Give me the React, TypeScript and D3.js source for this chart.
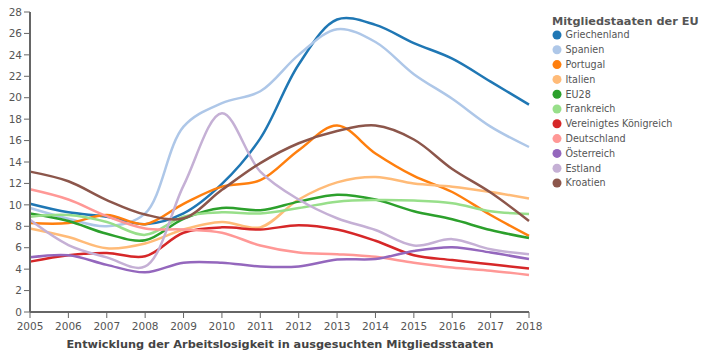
import React from "react";
import * as d3 from "d3";

const years = [2005, 2006, 2007, 2008, 2009, 2010, 2011, 2012, 2013, 2014, 2015, 2016, 2017, 2018];
const seriesNames = ["Griechenland", "Spanien", "Portugal", "Italien", "EU28", "Frankreich", "Vereinigtes Königreich", "Deutschland", "Österreich", "Estland", "Kroatien"];
const colors = ["#1f77b4", "#aec7e8", "#ff7f0e", "#ffbb78", "#2ca02c", "#98df8a", "#d62728", "#ff9896", "#9467bd", "#c5b0d5", "#8c564b"];

const griechenland = [10.1, 9.3, 8.9, 8.2, 9.2, 11.95, 16.2, 23.1, 27.3, 26.8, 25.1, 23.65, 21.5, 19.35];
const spanien = [9.7, 8.7, 8.0, 9.2, 17.3, 19.5, 20.6, 24.0, 26.4, 25.2, 22.2, 19.9, 17.3, 15.4];
const portugal = [8.3, 8.3, 9.05, 8.2, 10.1, 11.7, 12.3, 15.1, 17.4, 14.8, 12.7, 11.2, 9.05, 7.1];
const italien = [7.8, 7.0, 5.95, 6.4, 7.7, 8.4, 7.9, 10.5, 12.1, 12.6, 12.0, 11.7, 11.2, 10.6];
const eu28 = [9.2, 8.5, 7.3, 6.7, 8.7, 9.7, 9.5, 10.3, 10.95, 10.5, 9.4, 8.65, 7.65, 6.9];
const frankreich = [8.9, 9.05, 8.4, 7.2, 8.9, 9.3, 9.2, 9.7, 10.3, 10.45, 10.4, 10.15, 9.4, 9.15];
const vk = [4.7, 5.3, 5.5, 5.2, 7.4, 7.9, 7.7, 8.1, 7.7, 6.65, 5.3, 4.85, 4.45, 4.05];
const deutschland = [11.45, 10.5, 8.95, 7.8, 7.7, 7.4, 6.2, 5.55, 5.4, 5.15, 4.6, 4.15, 3.85, 3.45];
const oesterreich = [5.1, 5.3, 4.4, 3.7, 4.6, 4.6, 4.25, 4.25, 4.9, 4.95, 5.7, 6.05, 5.55, 4.95];
const estland = [8.6, 6.25, 5.1, 4.25, 11.8, 18.55, 13.1, 10.5, 8.75, 7.65, 6.2, 6.8, 5.85, 5.4];
const kroatien = [13.1, 12.2, 10.45, 9.1, 8.75, 11.4, 13.9, 15.75, 16.9, 17.4, 16.1, 13.35, 11.15, 8.5];

const seriesValues = [griechenland, spanien, portugal, italien, eu28, frankreich, vk, deutschland, oesterreich, estland, kroatien];
const yTicks = d3.range(0, 29, 2);
const legendTitle = "Mitgliedstaaten der EU";
const axisTitle = "Entwicklung der Arbeitslosigkeit in ausgesuchten Mitgliedsstaaten";

const W = 710, H = 356;
const left = 30, right = 529, top = 12, bottom = 312;

export default function App() {
  const x = d3.scaleLinear().domain([2005, 2018]).range([left, right]);
  const y = d3.scaleLinear().domain([0, 28]).range([bottom, top]);
  const line = d3.line<number>()
    .x((_, i) => x(years[i]))
    .y((d) => y(d))
    .curve(d3.curveCatmullRom.alpha(0.5));
  const font = "DejaVu Sans, Verdana, sans-serif";
  const axisColor = "#666";
  const textColor = "#555";
  return (
    <svg width={W} height={H} style={{ position: "absolute", left: 0, top: 0 }} fontFamily={font}>
      {seriesValues.map((vals, i) => (
        <path key={seriesNames[i]} d={line(vals) || ""} fill="none" stroke={colors[i]} strokeWidth={2.5} />
      ))}
      {/* y axis */}
      <line x1={left} x2={left} y1={top} y2={bottom} stroke={axisColor} strokeWidth={2} />
      {yTicks.map((t) => (
        <g key={t}>
          <line x1={left - 6} x2={left} y1={y(t)} y2={y(t)} stroke={axisColor} strokeWidth={1} />
          <text x={left - 8} y={y(t)} dy="0.35em" textAnchor="end" fontSize={10.5} fill={textColor}>{t}</text>
        </g>
      ))}
      {/* x axis */}
      <line x1={left} x2={right} y1={bottom} y2={bottom} stroke={axisColor} strokeWidth={2} />
      {years.map((yr) => (
        <g key={yr}>
          <line x1={x(yr)} x2={x(yr)} y1={bottom} y2={bottom + 6} stroke={axisColor} strokeWidth={1} />
          <text x={x(yr)} y={bottom + 18} textAnchor="middle" fontSize={10.5} fill={textColor}>{yr}</text>
        </g>
      ))}
      <text x={280} y={348} textAnchor="middle" fontSize={11.3} fontWeight="bold" fill="#444">{axisTitle}</text>
      {/* legend */}
      <text x={552} y={25} fontSize={11.3} fontWeight="bold" fill="#555">{legendTitle}</text>
      {seriesNames.map((n, i) => (
        <g key={n} transform={`translate(557, ${35 + i * 14.8})`}>
          <circle r={4.5} fill={colors[i]} />
          <text x={8.5} dy="0.35em" fontSize={9.6} fill={textColor}>{n}</text>
        </g>
      ))}
    </svg>
  );
}
